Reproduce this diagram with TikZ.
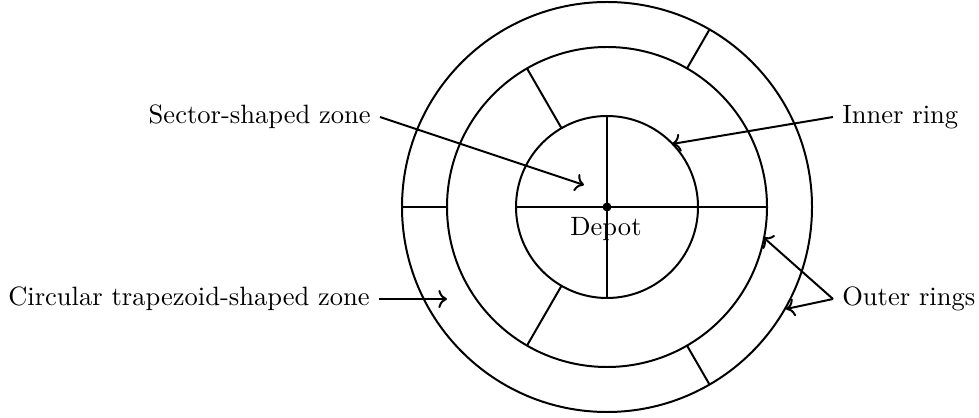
\documentclass[tikz,border=0pt]{standalone}
\usetikzlibrary{arrows.meta}
\begin{document}
\begin{tikzpicture}[x=0.377pt,y=0.377pt,
  ring/.style={line width=0.75pt},
  divider/.style={line width=0.75pt},
  pointer/.style={line width=0.75pt,->},
  lbl/.style={inner sep=3.3pt}]
\useasboundingbox (0,0) rectangle (979,417);
\coordinate (O) at (607,210);
% circles
\draw[ring] (O) circle[radius=91];
\draw[ring] (O) circle[radius=160];
\draw[ring] (O) circle[radius=205];
% inner sectors
\draw[divider,shift={(O)}] (180:91) -- (0:160);
\draw[divider,shift={(O)}] (90:91) -- (270:91);
% middle ring dividers
\draw[divider,shift={(O)}] (120:91) -- (120:160);
\draw[divider,shift={(O)}] (240:91) -- (240:160);
% outer ring dividers
\draw[divider,shift={(O)}] (60:160) -- (60:205);
\draw[divider,shift={(O)}] (180:160) -- (180:205);
\draw[divider,shift={(O)}] (300:160) -- (300:205);
% depot
\fill (O) circle[radius=4.5];
\node[anchor=base] (depot) at (606,181) {Depot};
% labels
\node[lbl,anchor=east] (sector) at (380,300) {Sector-shaped zone};
\coordinate (sectorEnd) at (584,232);
\draw[pointer] (sector.east) -- (sectorEnd);
\node[lbl,anchor=west] (inner) at (833,300) {Inner ring};
\coordinate (innerEnd) at (672,273);
\draw[pointer] (inner.west) -- (innerEnd);
\node[lbl,anchor=west] (outer) at (833,118) {Outer rings};
\coordinate (outerEndA) at (763,180);
\coordinate (outerEndB) at (786,108);
\draw[pointer] (outer.west) -- (outerEndA);
\draw[pointer] (outer.west) -- (outerEndB);
\node[lbl,anchor=east] (trap) at (379,118) {Circular trapezoid-shaped zone};
\coordinate (trapEnd) at (447,118);
\draw[pointer] (trap.east) -- (trapEnd);
\end{tikzpicture}
\end{document}
